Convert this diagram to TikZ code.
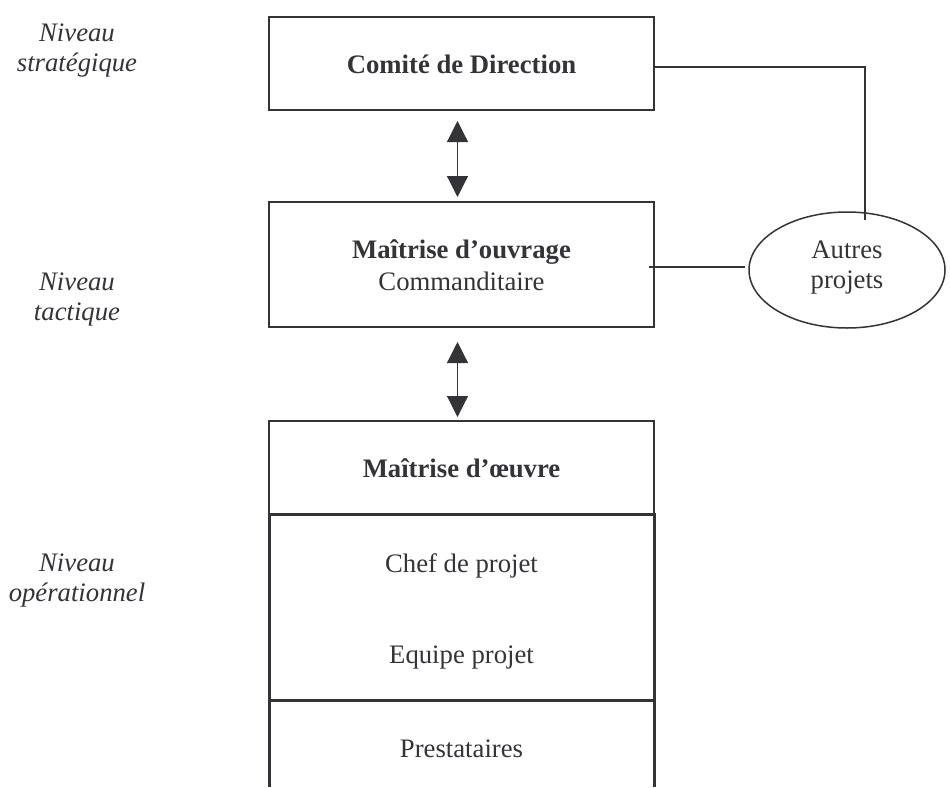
\documentclass[tikz,border=0pt]{standalone}
\usepackage{fontspec}
\setmainfont{Liberation Serif}
\usetikzlibrary{arrows.meta,shapes.geometric}
\definecolor{ink}{RGB}{52,52,56}
\begin{document}
\begin{tikzpicture}[x=1pt,y=-1pt,
  box/.style={draw=ink,line width=2pt,minimum width=385pt,inner sep=0pt,outer sep=0pt},
  txt/.style={anchor=base,inner sep=0pt,text=ink,font=\fontsize{26.7}{32}\selectfont},
  btxt/.style={anchor=base,inner sep=0pt,text=ink,font=\fontsize{26.7}{32}\selectfont\bfseries},
  lvl/.style={anchor=base,inner sep=0pt,text=ink,font=\fontsize{26.7}{32}\selectfont\itshape},
  conn/.style={draw=ink,line width=1.8pt},
  thin/.style={draw=ink,line width=1.5pt},
  dbl/.style={draw=ink,line width=1.2pt,{Triangle[width=21pt,length=21pt]}-{Triangle[width=21pt,length=21pt]}}]
\useasboundingbox (0,0) rectangle (950,787);
\fill[white] (0,0) rectangle (950,787);

% level labels
\node[lvl] (l1a) at (77,41.7) {Niveau};
\node[lvl] (l1b) at (77,71.7) {stratégique};
\node[lvl] (l2a) at (77,290) {Niveau};
\node[lvl] (l2b) at (77,320) {tactique};
\node[lvl] (l3a) at (77,571.7) {Niveau};
\node[lvl] (l3b) at (77,601.7) {opérationnel};

% boxes
\node[box,minimum height=93pt] (com) at (461.5,63.5) {};
\node[box,minimum height=125pt] (moa) at (461.5,264.5) {};
\node[box,minimum height=93pt] (moe) at (461.5,467.5) {};
\node[box,line width=3pt,minimum height=186pt] (eq) at (461.5,607) {};
\coordinate (pl) at (269,787);
\coordinate (pr) at (654,787);
\draw[ink,line width=3pt] (eq.south west) -- (pl);
\draw[ink,line width=3pt] (eq.south east) -- (pr);

% texts
\node[btxt] (tcom) at (461.5,73) {Comité de Direction};
\node[btxt] (tmoa) at (461.5,258) {Maîtrise d’ouvrage};
\node[txt] (tcmd) at (461.5,290) {Commanditaire};
\node[btxt] (tmoe) at (461.5,477) {Maîtrise d’œuvre};
\node[txt] (tchef) at (461.5,572) {Chef de projet};
\node[txt] (tequ) at (461.5,663) {Equipe projet};
\node[txt] (tpre) at (461.5,757) {Prestataires};

% ellipse
\node[ellipse,thin,minimum width=196pt,minimum height=116pt,inner sep=0pt] (aut) at (847,270) {};
\node[txt] (ta1) at (847,258) {Autres};
\node[txt] (ta2) at (847,288) {projets};

% connectors
\draw[dbl] ([xshift=-4pt,yshift=-11pt]com.south) -- ([xshift=-4pt,yshift=5pt]moa.north);
\draw[dbl] ([xshift=-4pt,yshift=-15pt]moa.south) -- ([xshift=-4pt,yshift=4pt]moe.north);
\coordinate (cend) at (865,220);
\draw[conn] ([yshift=-3.5pt]com.east) -| (cend);
\draw[thin] ([xshift=-5pt,yshift=-2.5pt]moa.east) -- ([xshift=-3pt,yshift=3pt]aut.west);
\end{tikzpicture}
\end{document}
